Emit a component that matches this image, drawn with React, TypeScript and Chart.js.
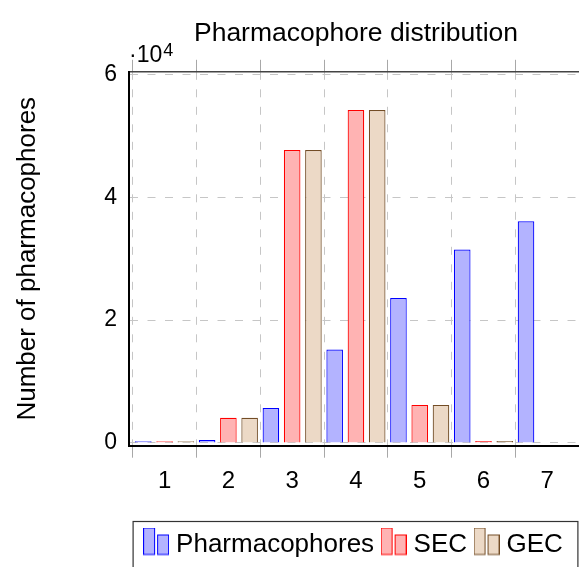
import React, { useEffect, useRef } from 'react';
import { Chart, registerables } from 'chart.js';

Chart.register(...registerables);

// ---- data ----
const categories = ['1', '2', '3', '4', '5', '6', '7'];
const seriesNames = ['Pharmacophores', 'SEC', 'GEC'];
const pharmacophores = [300, 490, 5700, 15200, 23600, 31500, 36100];
const sec = [300, 4100, 47700, 54200, 6200, 330, null];
const gec = [300, 4100, 47700, 54200, 6200, 330, null];
const yTickValues = [0, 20000, 40000, 60000];
const yTickLabels = ['0', '2', '4', '6'];
const exponentBase = '·10';
const exponentPower = '4';
const chartTitle = 'Pharmacophore distribution';
const yAxisTitle = 'Number of pharmacophores';

// ---- styles ----
const FONT = "'Liberation Sans', Arial, Helvetica, sans-serif";
const fills = ['rgb(179,179,255)', 'rgb(255,179,179)', 'rgb(236,217,198)'];
const strokes = ['rgb(0,0,255)', 'rgb(255,0,0)', 'rgb(115,77,38)'];
const GRID = '#c6c6c6';
const TICK = '#a8a8a8';

function makeIcon(fill: string, stroke: string) {
  const c = document.createElement('canvas');
  c.width = 26;
  c.height = 35;
  const g = c.getContext('2d')!;
  g.fillStyle = fill;
  g.strokeStyle = stroke;
  g.lineWidth = 1;
  g.fillRect(0.5, 0.5, 11, 26.5);
  g.strokeRect(0.5, 0.5, 11, 26.5);
  g.fillRect(14.5, 7.5, 11, 19.5);
  g.strokeRect(14.5, 7.5, 11, 19.5);
  return c;
}

const legendBoxPlugin = {
  id: 'legendBox',
  afterDraw(chart: any) {
    const hb = chart.legend && chart.legend.legendHitBoxes;
    if (!hb || !hb.length) return;
    const first = hb[0];
    const last = hb[hb.length - 1];
    const ctx = chart.ctx;
    ctx.save();
    ctx.strokeStyle = '#333';
    ctx.lineWidth = 1.2;
    const left = first.left - 16;
    const right = last.left + last.width + 15;
    const top = first.top - 10.5;
    const bottom = first.top + first.height + 14;
    ctx.strokeRect(left, top, right - left, bottom - top);
    ctx.restore();
  },
};

const exponentPlugin = {
  id: 'exponent',
  afterDraw(chart: any) {
    const { ctx, chartArea } = chart;
    ctx.save();
    ctx.fillStyle = '#000';
    ctx.textBaseline = 'alphabetic';
    ctx.textAlign = 'left';
    ctx.font = `23px ${FONT}`;
    const x = chartArea.left + 0;
    ctx.fillText(exponentBase, x, chartArea.top - 10);
    const w = ctx.measureText(exponentBase).width;
    ctx.font = `18px ${FONT}`;
    ctx.fillText(exponentPower, x + w + 1, chartArea.top - 16);
    ctx.restore();
  },
};

export default function App() {
  const ref = useRef<HTMLCanvasElement | null>(null);
  useEffect(() => {
    if (!ref.current) return;
    const icons = [0, 1, 2].map((i) => makeIcon(fills[i], strokes[i]));
    const series = [pharmacophores, sec, gec];
    const xMin = 0.442;
    const xMax = 7.56;
    const chart = new Chart(ref.current, {
      type: 'bar',
      data: {
        datasets: series.map((vals, i) => ({
          label: seriesNames[i],
          data: vals.map((v, j) => ({ x: j + 1, y: v })),
          backgroundColor: fills[i],
          borderColor: strokes[i],
          borderWidth: 1.2,
          xAxisID: 'x',
          yAxisID: 'y',
          categoryPercentage: 1.0,
          barPercentage: 0.78,
        })),
      },
      options: {
        responsive: false,
        animation: false,
        devicePixelRatio: 1,
        layout: { padding: 0 },
        plugins: {
          tooltip: { enabled: false },
          title: {
            display: true,
            text: chartTitle,
            color: '#000',
            font: { family: FONT, size: 26.5, weight: 'normal' },
            padding: { top: 18, bottom: 10 },
          },
          legend: {
            position: 'bottom',
            labels: {
              usePointStyle: true,
              pointStyleWidth: 14,
              padding: 12.5,
              color: '#000',
              font: { family: FONT, size: 26 },
              generateLabels: (ch: any) =>
                (Chart.defaults.plugins.legend.labels as any)
                  .generateLabels(ch)
                  .map((it: any, i: number) => ({ ...it, pointStyle: icons[i] })),
            },
          },
        },
        scales: {
          x: {
            type: 'linear',
            position: 'bottom',
            min: xMin,
            max: xMax,
            offset: false,
            ticks: {
              stepSize: 1,
              includeBounds: false,
              autoSkip: false,
              maxRotation: 0,
              padding: 9.4,
              color: '#000',
              font: { family: FONT, size: 24 },
              callback: (v: any) => categories[Number(v) - 1] ?? '',
            },
            grid: {
              offset: true,
              color: GRID,
              lineWidth: 1,
              drawTicks: true,
              tickLength: 12,
              tickColor: TICK,
              tickWidth: 1,
              tickBorderDash: [],
            },
            border: { display: true, color: '#000', width: 2, dash: [8, 9.5] },
            afterFit: (s: any) => {
              s.height = 73.8;
            },
          },
          x2: {
            type: 'linear',
            position: 'top',
            min: xMin,
            max: xMax,
            offset: false,
            ticks: { stepSize: 1, includeBounds: false, display: false },
            grid: {
              offset: true,
              drawOnChartArea: false,
              drawTicks: true,
              tickLength: 12,
              tickColor: TICK,
              tickWidth: 1,
              tickBorderDash: [],
            },
            border: { display: true, color: '#444', width: 1.5 },
          },
          y: {
            type: 'linear',
            position: 'left',
            min: -440,
            max: 60420,
            afterBuildTicks: (s: any) => {
              s.ticks = yTickValues.map((v) => ({ value: v }));
            },
            ticks: {
              padding: 12,
              color: '#000',
              font: { family: FONT, size: 23 },
              callback: (v: any) => {
                const k = yTickValues.indexOf(Number(v));
                return k >= 0 ? yTickLabels[k] : '';
              },
            },
            grid: { drawTicks: false, color: GRID, lineWidth: 1 },
            border: { display: true, color: '#000', width: 2, dash: [8, 9.5] },
            title: {
              display: true,
              text: yAxisTitle,
              color: '#000',
              font: { family: FONT, size: 26 },
              padding: { top: 12, bottom: 0 },
            },
            afterFit: (s: any) => {
              s.width = 129;
            },
          },
          yR: {
            type: 'linear',
            position: 'right',
            display: true,
            ticks: { display: false },
            grid: { display: false, drawTicks: false },
            border: { display: false },
            afterFit: (s: any) => {
              s.width = 129;
            },
          },
        },
      } as any,
      plugins: [legendBoxPlugin, exponentPlugin],
    });
    return () => chart.destroy();
  }, []);

  return (
    <div
      style={{
        position: 'fixed',
        left: 0,
        top: 0,
        width: 579,
        height: 567,
        overflow: 'hidden',
        background: '#fff',
      }}
    >
      <canvas ref={ref} width={712} height={568} style={{ display: 'block' }} />
    </div>
  );
}
